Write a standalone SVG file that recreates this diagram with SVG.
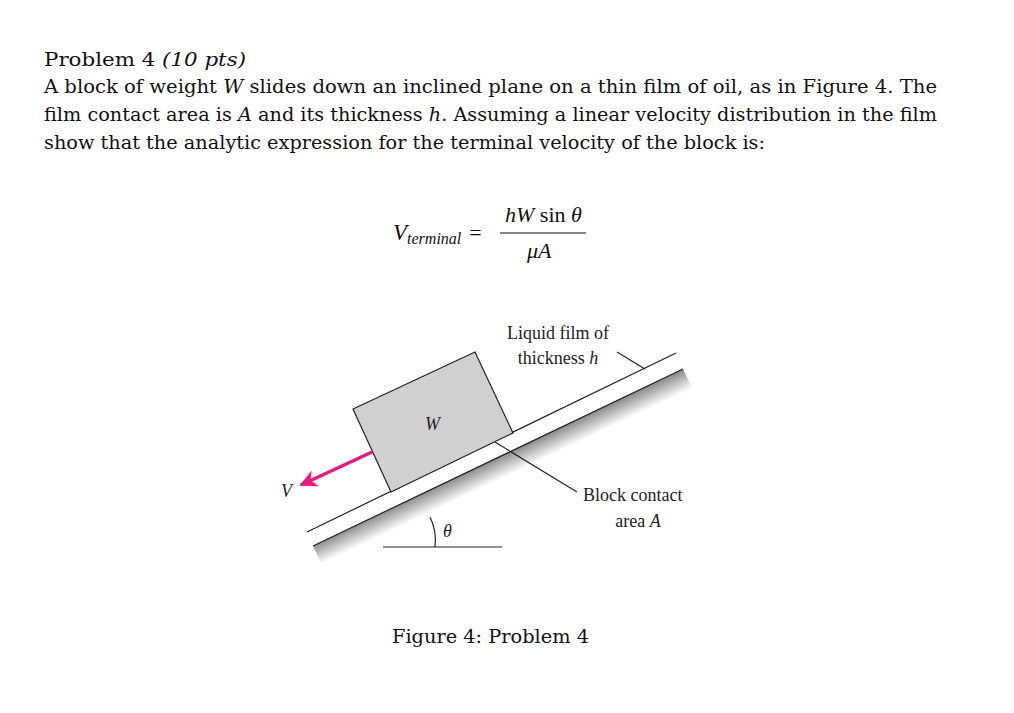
<svg xmlns="http://www.w3.org/2000/svg" width="1014" height="713" viewBox="0 0 1014 713">
<style>
.t{font-family:"DejaVu Serif",serif;font-size:19px;fill:#111}
.m{font-family:"Liberation Serif",serif;font-size:22px;fill:#111}
.f{font-family:"Liberation Serif",serif;font-size:18px;fill:#222}
.l{stroke:#222;stroke-width:1.2;fill:none}
</style>
<defs>
<linearGradient id="g" gradientUnits="userSpaceOnUse" x1="498" y1="457" x2="507" y2="476">
<stop offset="0" stop-color="#8a8a8a"/><stop offset="1" stop-color="#fff"/>
</linearGradient>
<marker id="ah" viewBox="0 0 10 10" refX="9" refY="5" markerWidth="5" markerHeight="5" orient="auto"><path d="M0,0L10,5L0,10L3,5Z" fill="#e6197d"/></marker>
</defs>
<rect width="1014" height="713" fill="#fff"/>
<g id="text">
<text class="t" x="44" y="66" textLength="202" lengthAdjust="spacingAndGlyphs">Problem 4 <tspan font-style="italic">(10 pts)</tspan></text>
<text class="t" x="44" y="93" textLength="893" lengthAdjust="spacingAndGlyphs">A block of weight <tspan font-style="italic">W</tspan> slides down an inclined plane on a thin film of oil, as in Figure 4. The</text>
<text class="t" x="44" y="121" textLength="893" lengthAdjust="spacingAndGlyphs">film contact area is <tspan font-style="italic">A</tspan> and its thickness <tspan font-style="italic">h</tspan>. Assuming a linear velocity distribution in the film</text>
<text class="t" x="44" y="149" textLength="721" lengthAdjust="spacingAndGlyphs">show that the analytic expression for the terminal velocity of the block is:</text>
<text class="m" x="393" y="240"><tspan font-style="italic" font-size="23">V</tspan><tspan font-style="italic" font-size="16" dy="4">terminal</tspan><tspan dy="-4" dx="8">=</tspan></text>
<text class="m" x="505" y="222"><tspan font-style="italic">hW</tspan> sin <tspan font-style="italic">θ</tspan></text>
<line x1="500" y1="233" x2="586" y2="233" stroke="#111" stroke-width="1.2"/>
<text class="m" x="527" y="258" font-style="italic">μA</text>
<text class="t" x="392" y="643" textLength="197" lengthAdjust="spacingAndGlyphs">Figure 4: Problem 4</text>
</g>
<g id="plane">
<polygon points="313,546 683,369 693,390 323,567" fill="url(#g)"/>
<line class="l" x1="313" y1="546" x2="683" y2="369"/>
<line class="l" x1="307" y1="532" x2="676" y2="353"/>
</g>
<g id="block">
<polygon points="353,409 475,352 513,433 391,492" fill="#d0d0d0" stroke="#222" stroke-width="1.2"/>
<text class="f" x="425" y="430" font-style="italic">W</text>
</g>
<g id="connectors">
<line x1="372" y1="452" x2="301" y2="485" stroke="#e6197d" stroke-width="3.5" marker-end="url(#ah)"/>
<line class="l" x1="617" y1="352" x2="645" y2="369"/>
<line class="l" x1="495" y1="442" x2="577" y2="492"/>
<line class="l" x1="383" y1="547" x2="502" y2="547"/>
<path class="l" d="M430,517 Q437,531 435,547"/>
</g>
<g id="labels">
<text class="f" x="281" y="497" font-style="italic">V</text>
<text class="f" x="443" y="537" font-style="italic">θ</text>
<text class="f" x="558" y="339" text-anchor="middle">Liquid film of</text>
<text class="f" x="558" y="364" text-anchor="middle">thickness <tspan font-style="italic">h</tspan></text>
<text class="f" x="583" y="501">Block contact</text>
<text class="f" x="638" y="527" text-anchor="middle">area <tspan font-style="italic">A</tspan></text>
</g>
</svg>
